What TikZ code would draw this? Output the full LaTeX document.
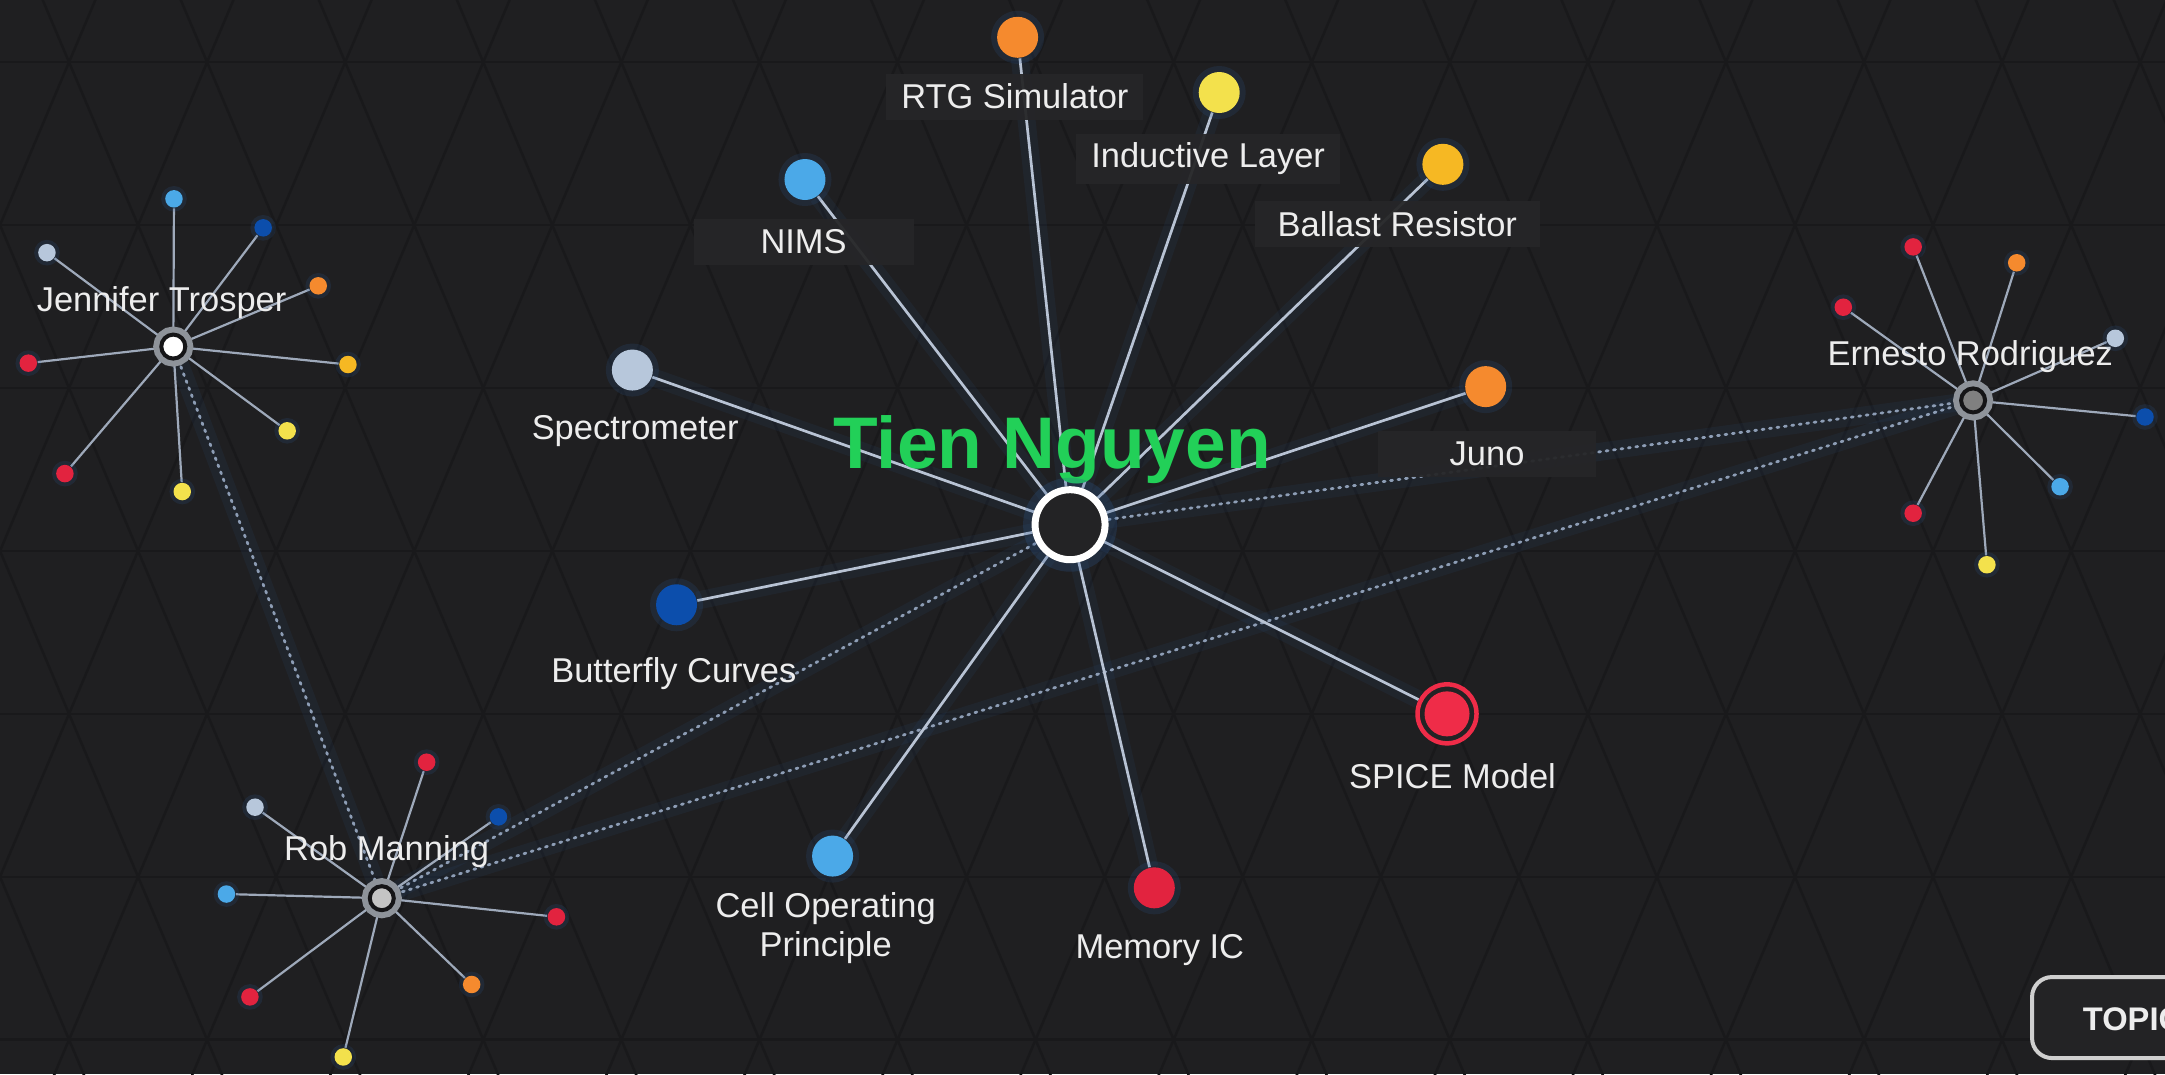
\documentclass[tikz,border=0pt]{standalone}
\usepackage{fontspec}
\setmainfont{Liberation Sans}
\definecolor{bgc}{HTML}{1F1F21}
\definecolor{patc}{HTML}{19191B}
\definecolor{linkc}{HTML}{B8C3D4}
\definecolor{twigc}{HTML}{9EA9BA}
\definecolor{tiec}{HTML}{8D9DB5}
\definecolor{glowc}{HTML}{2E5A93}
\definecolor{boxc}{HTML}{262628}
\definecolor{txtc}{HTML}{EDEDED}
\definecolor{tiengreen}{HTML}{22D058}
\definecolor{hubfill}{HTML}{232325}
\definecolor{corange}{HTML}{F58A2E}
\definecolor{cyellow}{HTML}{F3E14C}
\definecolor{cgold}{HTML}{F6B823}
\definecolor{clblue}{HTML}{4BA9E8}
\definecolor{cpale}{HTML}{B7C7DB}
\definecolor{cdblue}{HTML}{0C4EAC}
\definecolor{cred}{HTML}{E2233F}
\definecolor{cspice}{HTML}{EF2C48}
\definecolor{ringgray}{HTML}{8E939A}
\definecolor{ringdark}{HTML}{151517}
\definecolor{btnc}{HTML}{CFCFCF}
\newcommand\lblfont{\fontsize{9.8}{11}\selectfont}
\pgfdeclarelayer{pattern}
\pgfdeclarelayer{edges}
\pgfdeclarelayer{lbls}
\pgfsetlayers{pattern,edges,lbls,main}
\begin{document}
\begin{tikzpicture}[x=0.13807mm,y=-0.13807mm,
  hubmain/.style={circle, draw=white, line width=0.7mm, fill=hubfill, minimum size=7.0mm, inner sep=0,
     preaction={draw=glowc, line width=2.4mm, draw opacity=0.25}},
  topicnode/.style={circle, fill=#1, minimum size=4.1mm, inner sep=0,
     preaction={draw=glowc, line width=1.2mm, draw opacity=0.18}},
  spicenode/.style={circle, draw=cspice, line width=0.45mm, fill=hubfill, minimum size=5.9mm, inner sep=0,
     path picture={\fill[cspice] (path picture bounding box.center) circle (2.25mm);}},
  leaf/.style={circle, fill=#1, minimum size=1.75mm, inner sep=0,
     preaction={draw=glowc, line width=0.8mm, draw opacity=0.18}},
  person/.style={circle, fill=#1, draw=ringdark, line width=0.4mm, minimum size=2.4mm, inner sep=0,
     preaction={draw=ringgray, line width=1.6mm}},
  link/.style={draw=linkc, line width=0.27mm},
  twig/.style={draw=twigc, line width=0.22mm},
  tie/.style={draw=tiec, line width=0.28mm, dash pattern=on 0.2mm off 0.55mm, line cap=round},
  glow/.style={draw=glowc, line width=1.8mm, draw opacity=0.1},
  lbl/.style={text=txtc, font=\lblfont, inner xsep=1.5mm, inner ysep=0.9mm},
  lblbox/.style={lbl, fill=boxc, fill opacity=0.95, text opacity=1, minimum height=4.6mm},
  ]
\useasboundingbox (0,0) rectangle (1568,778);
\clip (0,0) rectangle (1568,778);
\begin{pgfonlayer}{pattern}
\fill[bgc] (0,0) rectangle (1568,778);
\foreach \k in {1,...,7} { \draw[patc, line width=0.25mm] (0,-73+118*\k) -- (1568,-73+118*\k); }
\foreach \i in {-6,...,22} {
  \draw[patc, line width=0.25mm] (100*\i,-73) -- ++(400,944);
  \draw[patc, line width=0.25mm] (100*\i,-73) -- ++(-400,944);
}
\end{pgfonlayer}

% central person and topics
\node[hubmain] (tien) at (775,380) {};
\node[topicnode=corange] (rtg) at (737,27) {};
\node[topicnode=cyellow] (ind) at (883,67) {};
\node[topicnode=cgold] (bal) at (1045,119) {};
\node[topicnode=clblue] (nims) at (583,130) {};
\node[topicnode=cpale] (spec) at (458,268) {};
\node[topicnode=corange] (juno) at (1076,280) {};
\node[topicnode=cdblue] (bfly) at (490,438) {};
\node[topicnode=clblue] (cell) at (603,620) {};
\node[topicnode=cred] (mem) at (836,643) {};
\node[spicenode] (spice) at (1048,517) {};

% other people
\node[person=white] (jen) at (125.5,251) {};
\node[person={black!23}] (rob) at (276.5,650.5) {};
\node[person={black!50}] (ern) at (1429,290) {};

\begin{pgfonlayer}{edges}
\foreach \t in {rtg,ind,bal,nims,spec,juno,bfly,cell,mem,spice} {
  \draw[glow] (tien) -- (\t);
}
\draw[glow] (jen) -- (rob);
\draw[glow] (rob) -- (tien);
\draw[glow] (rob) -- (ern);
\draw[glow] (tien) -- (ern);
\draw[tie] (jen) -- (rob);
\draw[tie] (rob) -- (tien);
\draw[tie] (rob) -- (ern);
\draw[tie] (tien) -- (ern);
\foreach \t in {rtg,ind,bal,nims,spec,juno,bfly,cell,mem,spice} {
  \draw[link] (tien) -- (\t);
}
\end{pgfonlayer}

% leaves of Jennifer Trosper
\foreach \x/\y/\c [count=\n] in {126/144/clblue, 190.6/165/cdblue, 34/183/cpale, 230.5/207/corange,
   20.5/263/cred, 252/264/cgold, 208/312/cyellow, 47/343/cred, 132/356/cyellow} {
  \node[leaf=\c] (jl\n) at (\x,\y) {};
  \begin{pgfonlayer}{edges}\draw[twig] (jen) -- (jl\n);\end{pgfonlayer}
}
% leaves of Rob Manning
\foreach \x/\y/\c [count=\n] in {309/552/cred, 184.7/584.6/cpale, 361/591.6/cdblue, 164/647.5/clblue,
   403/664/cred, 181/722/cred, 341.6/713/corange, 248.6/765.5/cyellow} {
  \node[leaf=\c] (rl\n) at (\x,\y) {};
  \begin{pgfonlayer}{edges}\draw[twig] (rob) -- (rl\n);\end{pgfonlayer}
}
% leaves of Ernesto Rodriguez
\foreach \x/\y/\c [count=\n] in {1385.6/178.8/cred, 1460.6/190.3/corange, 1335/222.5/cred, 1532/245/cpale,
   1553.5/302/cdblue, 1492/352.5/clblue, 1385.6/371.7/cred, 1439/409/cyellow} {
  \node[leaf=\c] (el\n) at (\x,\y) {};
  \begin{pgfonlayer}{edges}\draw[twig] (ern) -- (el\n);\end{pgfonlayer}
}

\begin{pgfonlayer}{lbls}
\node[anchor=base, text=tiengreen, font=\fontsize{20.8}{24}\selectfont\bfseries] (tienlbl) at (762,339) {Tien Nguyen};
\node[lblbox] (rtglbl) at (735,70) {RTG Simulator};
\node[lblbox] (indlbl) at (875,115) {Inductive Layer};
\node[lblbox, inner xsep=2.3mm] (ballbl) at (1012,162) {Ballast Resistor};
\node[lblbox, minimum width=22mm] (nimslbl) at (582,175) {NIMS};
\node[lbl] (speclbl) at (460,312) {Spectrometer};
\node[lblbox, minimum width=21.8mm] (junolbl) at (1077,329) {Juno};
\node[lbl] (bflylbl) at (488,488) {Butterfly Curves};
\node[lbl, align=center] (celllbl) at (598,672) {Cell Operating\\Principle};
\node[lbl] (memlbl) at (840,688) {Memory IC};
\node[lbl] (spicelbl) at (1052,562) {SPICE Model};
\node[lbl] (jenlbl) at (117,219.5) {Jennifer Trosper};
\node[lbl] (roblbl) at (280,617) {Rob Manning};
\node[lbl] (ernlbl) at (1427,258.5) {Ernesto Rodriguez};
\end{pgfonlayer}

% TOPIC button, cut by the right edge as in the reference
\draw[draw=btnc, fill=hubfill, line width=0.4mm, rounded corners=2mm] (1471.7,707.6) rectangle (1660,766.3);
\node[anchor=base west, inner sep=0, text=txtc, font=\fontsize{9.3}{11}\selectfont\bfseries] (topictxt) at (1508,746) {TOPIC};
\end{tikzpicture}
\end{document}
